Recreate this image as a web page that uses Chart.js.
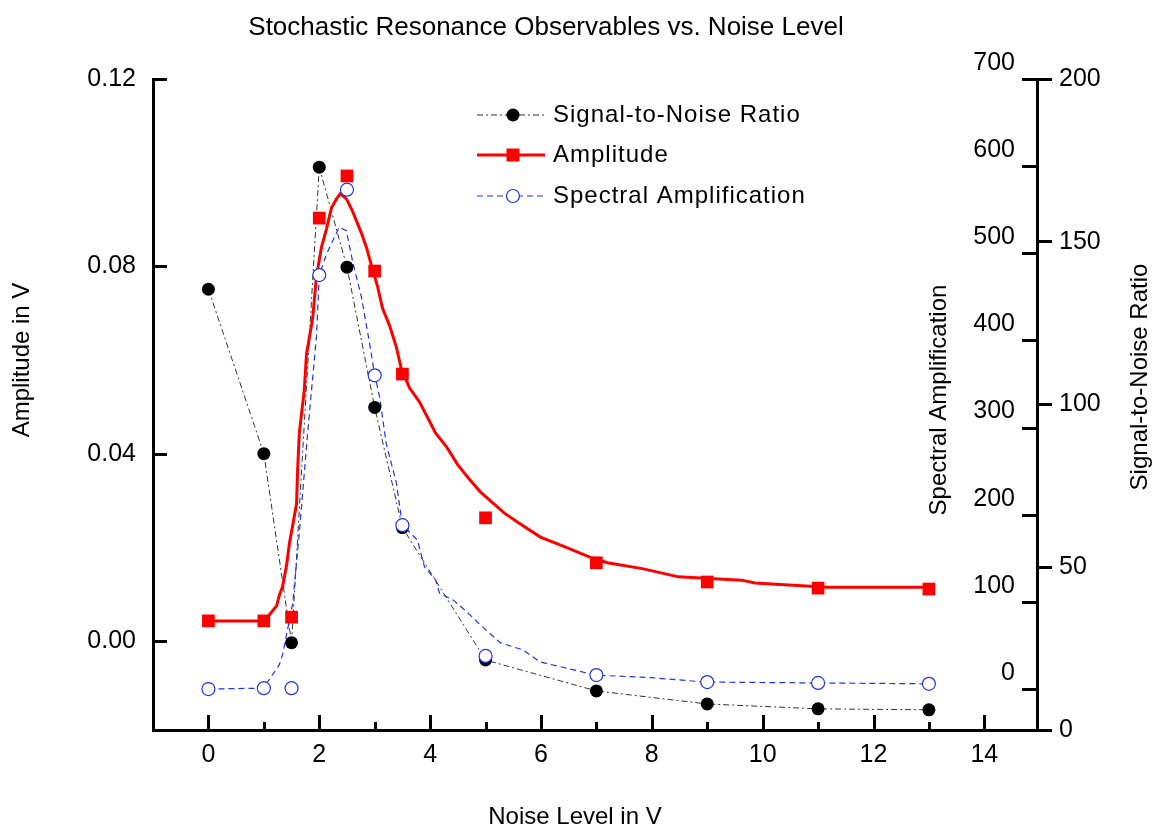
<!DOCTYPE html>
<html>
<head>
<meta charset="utf-8">
<title>Stochastic Resonance Observables vs. Noise Level</title>
<script src="https://cdn.jsdelivr.net/npm/chart.js@4.4.1/dist/chart.umd.min.js"></script>
<style>
  html, body { margin: 0; padding: 0; background: #fff; }
  #wrap { width: 1157px; height: 830px; position: relative; }
</style>
</head>
<body>
<div id="wrap"><canvas id="srChart"></canvas></div>
<script>
// measured points (noise level in V)
const noiseLevels = [0, 1, 1.5, 2, 2.5, 3, 3.5, 5, 7, 9, 11, 13];
const snrValues = [135.4, 84.9, 26.8, 172.9, 142.2, 99.1, 62.2, 21.5, 12.0, 8.0, 6.5, 6.2];
const amplitudeValues = [0.0043, 0.0043, 0.0051, 0.0903, 0.0993, 0.0790, 0.0570, 0.0263, 0.0167, 0.0126, 0.0113, 0.0111];
const spectralValues = [0, 1, 1, 475, 573, 360, 188, 38, 16, 8, 7, 6];

// fitted amplitude curve (red line)
const ampFitX = [0, 0.99, 1.10, 1.23, 1.28, 1.34, 1.41, 1.46, 1.59, 1.61, 1.64, 1.73, 1.77, 1.88, 1.95, 2.04, 2.13, 2.22, 2.31, 2.38,
  2.49, 2.60, 2.76, 2.85, 2.96, 3.05, 3.14, 3.27, 3.39, 3.48, 3.63, 3.81, 4.10, 4.30, 4.50, 4.69, 4.91, 5.34, 5.60, 5.99,
  6.39, 6.88, 7.20, 7.85, 8.48, 9.62, 9.86, 11.16, 13.0];
const ampFitY = [0.0043, 0.0043, 0.0056, 0.0075, 0.0098, 0.0117, 0.0162, 0.0207, 0.0293, 0.0367, 0.0444, 0.0536, 0.0613, 0.0688,
  0.0779, 0.0841, 0.0880, 0.0925, 0.0944, 0.0955, 0.0944, 0.0918, 0.0871, 0.0841, 0.0794, 0.0758, 0.0711, 0.0673, 0.0628,
  0.0581, 0.0540, 0.0510, 0.0444, 0.0414, 0.0376, 0.0348, 0.0318, 0.0273, 0.0252, 0.0222, 0.0203, 0.0179, 0.0167, 0.0154,
  0.0137, 0.0130, 0.0124, 0.0115, 0.0115];

// smoothed spectral amplification line (blue dashes)
const specLineX = [0, 0.99, 1.28, 1.34, 1.52, 1.64, 1.79, 1.95, 2.0, 2.13, 2.36, 2.49, 2.60, 2.76, 2.91, 3.0, 3.09, 3.21, 3.39, 3.5,
  3.77, 3.90, 4.10, 4.17, 4.42, 4.62, 4.95, 5.27, 5.67, 5.99, 6.39, 6.99, 8.0, 8.97, 11, 13];
const specLineY = [0, 1, 28, 40, 98, 179, 294, 405, 475, 499, 530, 526, 491, 450, 396, 360, 335, 281, 237, 188,
  171, 140, 125, 110, 102, 91, 71, 53, 45, 31, 25, 16, 13, 8, 7, 6];

// axis ticks
const noiseTicks = [0, 2, 4, 6, 8, 10, 12, 14];
const noiseMinorTicks = [1, 3, 5, 7, 9, 11, 13];
const ampTicks = [0, 0.04, 0.08, 0.12];
const spectralTicks = [0, 100, 200, 300, 400, 500, 600, 700];
const snrTicks = [0, 50, 100, 150, 200];

const FONT = "'Liberation Sans', Arial, sans-serif";
Chart.defaults.font.family = FONT;
Chart.defaults.color = '#000';

const pts = (xs, ys) => xs.map((x, i) => ({x: x, y: ys[i]}));

// ticks inside the frame, the spectral axis, titles and legend
const decorations = {
  id: 'decorations',
  afterDraw(chart) {
    const {ctx, chartArea: area, scales} = chart;
    ctx.save();
    ctx.strokeStyle = '#000';
    ctx.lineWidth = 3;
    ctx.beginPath();
    scales.x.ticks.forEach(t => {
      const px = Math.round(scales.x.getPixelForValue(t.value)) + 0.5;
      const len = noiseTicks.includes(t.value) ? 15 : 8;
      ctx.moveTo(px, area.bottom);
      ctx.lineTo(px, area.bottom - len);
    });
    ampTicks.forEach(v => {
      const py = Math.round(scales.yAmp.getPixelForValue(v)) + 0.5;
      ctx.moveTo(area.left, py);
      ctx.lineTo(area.left + 14, py);
    });
    spectralTicks.forEach(v => {
      const py = Math.round(scales.ySpec.getPixelForValue(v)) + 0.5;
      ctx.moveTo(area.right - 15, py);
      ctx.lineTo(area.right, py);
    });
    ctx.stroke();

    ctx.fillStyle = '#000';
    ctx.font = '25px ' + FONT;
    ctx.textAlign = 'right';
    ctx.textBaseline = 'middle';
    spectralTicks.forEach(v => {
      ctx.fillText(String(v), area.right - 22, scales.ySpec.getPixelForValue(v) - 16);
    });

    // chart title and axis titles
    ctx.textAlign = 'center';
    ctx.textBaseline = 'alphabetic';
    ctx.font = '26px ' + FONT;
    ctx.fillText('Stochastic Resonance Observables vs. Noise Level', 546, 35);
    ctx.font = '24px ' + FONT;
    ctx.fillText('Noise Level in V', 575, 824);
    ctx.textBaseline = 'middle';
    const vText = (txt, x, y) => {
      ctx.save();
      ctx.translate(x, y);
      ctx.rotate(-Math.PI / 2);
      ctx.fillText(txt, 0, 0);
      ctx.restore();
    };
    vText('Amplitude in V', 22, 360);
    vText('Spectral Amplification', 939, 400);
    vText('Signal-to-Noise Ratio', 1140, 377);

    // legend
    const lx0 = 477, lx1 = 545, mx = 513, tx = 553;
    const rows = [115, 155, 196];
    ctx.textAlign = 'left';
    ctx.font = '24px ' + FONT;
    ctx.letterSpacing = '1px';

    ctx.strokeStyle = '#333';
    ctx.lineWidth = 1;
    ctx.setLineDash([6, 3, 2, 3]);
    ctx.beginPath(); ctx.moveTo(lx0, rows[0]); ctx.lineTo(lx1, rows[0]); ctx.stroke();
    ctx.setLineDash([]);
    ctx.fillStyle = '#000';
    ctx.beginPath(); ctx.arc(mx, rows[0], 6.5, 0, Math.PI * 2); ctx.fill();
    ctx.fillText('Signal-to-Noise Ratio', tx, rows[0]);

    ctx.strokeStyle = '#ff0000';
    ctx.lineWidth = 3;
    ctx.beginPath(); ctx.moveTo(lx0, rows[1]); ctx.lineTo(lx1, rows[1]); ctx.stroke();
    ctx.fillStyle = '#ff0000';
    ctx.fillRect(mx - 6.5, rows[1] - 6.5, 13, 13);
    ctx.fillStyle = '#000';
    ctx.fillText('Amplitude', tx, rows[1]);

    ctx.strokeStyle = '#2233ee';
    ctx.lineWidth = 1.2;
    ctx.setLineDash([6, 4]);
    ctx.beginPath(); ctx.moveTo(lx0, rows[2]); ctx.lineTo(lx1, rows[2]); ctx.stroke();
    ctx.setLineDash([]);
    ctx.fillStyle = '#fff';
    ctx.beginPath(); ctx.arc(mx, rows[2], 6.5, 0, Math.PI * 2); ctx.fill(); ctx.stroke();
    ctx.fillStyle = '#000';
    ctx.fillText('Spectral Amplification', tx, rows[2]);
    ctx.restore();
  }
};

const ctx = document.getElementById('srChart').getContext('2d');
new Chart(ctx, {
  type: 'scatter',
  data: {
    datasets: [
      {
        label: 'Amplitude',
        data: pts(noiseLevels, amplitudeValues),
        yAxisID: 'yAmp',
        showLine: false,
        pointStyle: 'rect',
        pointRadius: 9,
        backgroundColor: '#ff0000',
        borderColor: '#ff0000',
        borderWidth: 0,
        order: 0
      },
      {
        label: 'Spectral Amplification',
        data: pts(noiseLevels, spectralValues),
        yAxisID: 'ySpec',
        showLine: false,
        pointStyle: 'circle',
        pointRadius: 6.5,
        backgroundColor: '#ffffff',
        borderColor: '#2233ee',
        borderWidth: 1.2,
        order: 1
      },
      {
        label: 'Signal-to-Noise Ratio',
        data: pts(noiseLevels, snrValues),
        yAxisID: 'ySnr',
        showLine: false,
        pointStyle: 'circle',
        pointRadius: 6.5,
        backgroundColor: '#000',
        borderColor: '#000',
        borderWidth: 0,
        order: 2
      },
      {
        label: 'Amplitude fit',
        data: pts(ampFitX, ampFitY),
        yAxisID: 'yAmp',
        showLine: true,
        pointRadius: 0,
        borderColor: '#ff0000',
        borderWidth: 3,
        tension: 0,
        order: 3
      },
      {
        label: 'Spectral line',
        data: pts(specLineX, specLineY),
        yAxisID: 'ySpec',
        showLine: true,
        pointRadius: 0,
        borderColor: '#2233ee',
        borderWidth: 1.2,
        borderDash: [6, 4],
        tension: 0,
        order: 4
      },
      {
        label: 'SNR line',
        data: pts(noiseLevels, snrValues),
        yAxisID: 'ySnr',
        showLine: true,
        pointRadius: 0,
        borderColor: '#333',
        borderWidth: 1,
        borderDash: [6, 3, 2, 3],
        tension: 0,
        order: 5
      }
    ]
  },
  options: {
    responsive: true,
    maintainAspectRatio: false,
    animation: false,
    layout: { padding: { top: 79, left: 0, right: 0, bottom: 0 } },
    plugins: {
      legend: { display: false },
      title: { display: false },
      tooltip: { enabled: false }
    },
    scales: {
      x: {
        type: 'linear',
        min: -1,
        max: 14.95,
        afterBuildTicks: s => {
          s.ticks = noiseTicks.concat(noiseMinorTicks).sort((a, b) => a - b).map(v => ({value: v}));
        },
        afterFit: s => { s.height = 100; },
        grid: { display: false, drawTicks: false },
        border: { display: true, width: 3, color: '#000' },
        ticks: {
          autoSkip: false,
          maxRotation: 0,
          padding: 10,
          font: { size: 25 },
          color: '#000',
          callback: v => noiseTicks.includes(v) ? String(v) : ''
        }
      },
      yAmp: {
        type: 'linear',
        position: 'left',
        min: -0.019,
        max: 0.12,
        afterBuildTicks: s => { s.ticks = ampTicks.map(v => ({value: v})); },
        afterFit: s => { s.width = 153; },
        grid: { display: false, drawTicks: false },
        border: { display: true, width: 3, color: '#000' },
        ticks: { padding: 17, font: { size: 25 }, color: '#000', callback: v => v.toFixed(2) }
      },
      ySpec: {
        type: 'linear',
        position: 'right',
        min: -47,
        max: 700,
        display: false
      },
      ySnr: {
        type: 'linear',
        position: 'right',
        min: 0,
        max: 200,
        afterBuildTicks: s => { s.ticks = snrTicks.map(v => ({value: v})); },
        afterFit: s => { s.width = 120; },
        grid: {
          display: true,
          drawOnChartArea: false,
          drawTicks: true,
          tickLength: 15,
          tickWidth: 3,
          tickColor: '#000',
          lineWidth: 3,
          color: '#000'
        },
        border: { display: true, width: 3, color: '#000' },
        ticks: { padding: 7, font: { size: 25 }, color: '#000' }
      }
    }
  },
  plugins: [decorations]
});
</script>
</body>
</html>
